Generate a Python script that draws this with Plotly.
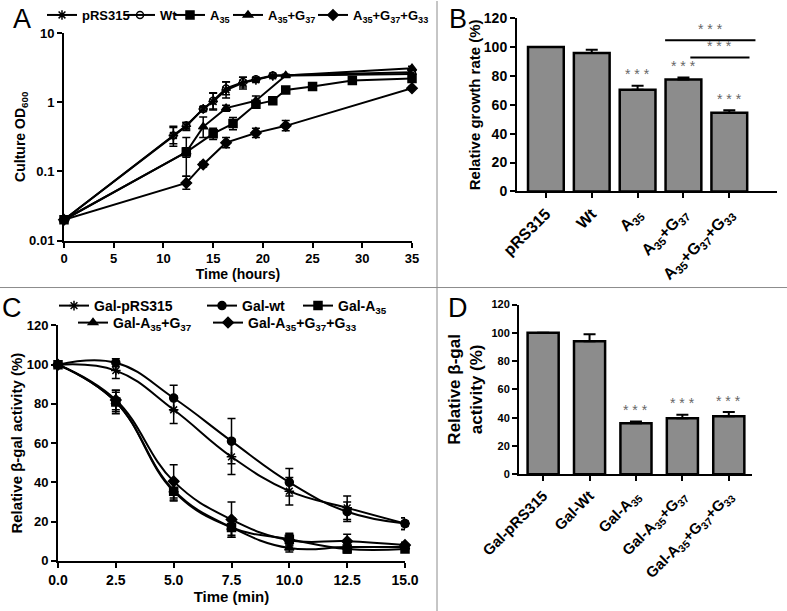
import plotly.graph_objects as go

W, H = 787, 611
FONT = "Liberation Sans, Arial, sans-serif"

# ---------------- Panel A data (growth curves, log OD600) ----------------
a_names = ["pRS315", "Wt", "A<sub>35</sub>", "A<sub>35</sub>+G<sub>37</sub>",
           "A<sub>35</sub>+G<sub>37</sub>+G<sub>33</sub>"]
a_symbols = ["asterisk-open", "circle-open", "square", "triangle-up", "diamond"]

a_prs_t = [0, 11, 12.3, 14, 15, 16.3, 18, 19.3, 21, 35]
a_prs_v = [0.02, 0.33, 0.45, 0.80, 1.02, 1.50, 1.90, 2.10, 2.40, 2.55]
a_prs_eu = [0, 0.12, 0.06, 0.05, 0.35, 0.45, 0.40, 0.15, 0.10, 0.10]
a_prs_ed = [0, 0.10, 0.06, 0.05, 0.25, 0.35, 0.35, 0.15, 0.10, 0.10]

a_wt_t = [0, 11, 12.3, 14, 15, 16.3, 18, 19.3, 21, 35]
a_wt_v = [0.02, 0.33, 0.46, 0.80, 1.05, 1.58, 1.95, 2.15, 2.43, 2.70]
a_wt_eu = [0, 0.10, 0.05, 0.05, 0.30, 0.40, 0.35, 0.12, 0.10, 0.10]
a_wt_ed = [0, 0.08, 0.05, 0.05, 0.25, 0.30, 0.30, 0.12, 0.10, 0.10]

a_a35_t = [0, 12.3, 15, 17, 19.3, 21, 22.3, 25, 29, 35]
a_a35_v = [0.02, 0.19, 0.35, 0.49, 0.93, 1.05, 1.50, 1.68, 2.05, 2.20]
a_a35_eu = [0, 0.12, 0.07, 0.11, 0.10, 0.05, 0.08, 0.08, 0.10, 0.20]
a_a35_ed = [0, 0.105, 0.06, 0.09, 0.10, 0.05, 0.08, 0.08, 0.10, 0.20]

a_g37_t = [0, 12.3, 14, 16.3, 19.3, 22.3, 35]
a_g37_v = [0.02, 0.19, 0.44, 0.82, 1.05, 2.43, 3.10]
a_g37_eu = [0, 0.03, 0.17, 0.08, 0.18, 0.10, 0.20]
a_g37_ed = [0, 0.03, 0.13, 0.08, 0.15, 0.10, 0.20]

a_g33_t = [0, 12.3, 14, 16.3, 19.3, 22.3, 35]
a_g33_v = [0.02, 0.068, 0.126, 0.26, 0.36, 0.455, 1.59]
a_g33_eu = [0, 0.017, 0.01, 0.05, 0.06, 0.09, 0.10]
a_g33_ed = [0, 0.013, 0.01, 0.04, 0.05, 0.07, 0.10]

a_t_list = [a_prs_t, a_wt_t, a_a35_t, a_g37_t, a_g33_t]
a_v_list = [a_prs_v, a_wt_v, a_a35_v, a_g37_v, a_g33_v]
a_eu_list = [a_prs_eu, a_wt_eu, a_a35_eu, a_g37_eu, a_g33_eu]
a_ed_list = [a_prs_ed, a_wt_ed, a_a35_ed, a_g37_ed, a_g33_ed]

a_xticks = [0, 5, 10, 15, 20, 25, 30, 35]
a_yticks = [0.01, 0.1, 1, 10]
a_yticktext = ["0.01", "0.1", "1", "10"]

# ---------------- Panel B data (relative growth rate) ----------------
b_cats = ["pRS315", "Wt", "A<sub>35</sub>", "A<sub>35</sub>+G<sub>37</sub>",
          "A<sub>35</sub>+G<sub>37</sub>+G<sub>33</sub>"]
b_vals = [100, 96, 70.5, 77.5, 54.5]
b_errs = [0, 2.2, 2.8, 1.5, 1.8]
b_stars = ["", "", "* * *", "* * *", "* * *"]
b_sig_x0 = [2.6, 3.15]
b_sig_x1 = [4.57, 4.44]
b_sig_y = [104.8, 92.8]

# ---------------- Panel C data (beta-gal decay) ----------------
c_names = ["Gal-pRS315", "Gal-wt", "Gal-A<sub>35</sub>",
           "Gal-A<sub>35</sub>+G<sub>37</sub>",
           "Gal-A<sub>35</sub>+G<sub>37</sub>+G<sub>33</sub>"]
c_symbols = ["asterisk-open", "circle", "square", "triangle-up", "diamond"]
c_t = [0, 2.5, 5, 7.5, 10, 12.5, 15]
c_prs = [100, 97, 77, 53, 35.5, 27, 19]
c_wt = [100, 101, 83, 61, 40, 25, 19]
c_a35 = [100, 81, 35.5, 17, 11, 6, 6]
c_g37 = [100, 81, 36, 17, 6.5, 7, 7]
c_g33 = [100, 82, 40.5, 21, 10.5, 10, 8]
c_prs_e = [0, 4, 7, 9, 7, 6, 3]
c_wt_e = [0, 2, 6.5, 11.5, 7, 5, 3]
c_a35_e = [0, 6, 5, 4, 3, 2, 1.5]
c_g37_e = [0, 5, 5, 5, 2, 2, 1.5]
c_g33_e = [0, 5, 8.5, 9, 3, 3.5, 1.5]
c_v_list = [c_prs, c_wt, c_a35, c_g37, c_g33]
c_e_list = [c_prs_e, c_wt_e, c_a35_e, c_g37_e, c_g33_e]
c_xticks = [0, 2.5, 5, 7.5, 10, 12.5, 15]

# ---------------- Panel D data (relative beta-gal activity) ----------------
d_cats = ["Gal-pRS315", "Gal-Wt", "Gal-A<sub>35</sub>",
          "Gal-A<sub>35</sub>+G<sub>37</sub>",
          "Gal-A<sub>35</sub>+G<sub>37</sub>+G<sub>33</sub>"]
d_vals = [100, 94, 36, 39.5, 41]
d_errs = [0, 5, 1.2, 2.5, 3]
d_stars = ["", "", "* * *", "* * *", "* * *"]

bar_y_ticks = [0, 20, 40, 60, 80, 100, 120]

# legend key placement (centre of key symbol, in page pixels)
a_leg_ids = ["legend", "legend4", "legend5", "legend6", "legend7"]
a_leg_cx = [62, 140, 190, 248, 333]
a_leg_cy = [14, 14, 14, 14, 14]
c_leg_ids = ["legend2", "legend8", "legend9", "legend3", "legend10"]
c_leg_cx = [74, 222, 318, 93, 228]
c_leg_cy = [306, 306, 306, 323, 323]


def fx(px):
    return px / W


def fy(py):
    return 1 - py / H


fig = go.Figure()

# Panel A traces
for i in range(5):
    fig.add_trace(go.Scatter(
        x=a_t_list[i], y=a_v_list[i], name=a_names[i],
        mode="lines+markers", xaxis="x", yaxis="y", legend=a_leg_ids[i],
        line=dict(color="black", width=2),
        marker=dict(symbol=a_symbols[i], size=8 if i != 1 else 7, color="black",
                    line=dict(color="black", width=1.5)),
        error_y=dict(type="data", symmetric=False, array=a_eu_list[i],
                     arrayminus=a_ed_list[i], color="black", thickness=1.5, width=4),
        cliponaxis=False,
    ))

# Panel B bars
fig.add_trace(go.Bar(
    x=b_cats, y=b_vals, xaxis="x2", yaxis="y2", showlegend=False, width=0.78,
    marker=dict(color="#8c8c8c", line=dict(color="black", width=2.5)),
    error_y=dict(type="data", symmetric=False, array=b_errs,
                 arrayminus=[0] * len(b_errs), color="black", thickness=2, width=6),
))

# Panel C traces
for i in range(5):
    fig.add_trace(go.Scatter(
        x=c_t, y=c_v_list[i], name=c_names[i],
        mode="lines+markers", xaxis="x3", yaxis="y3", legend=c_leg_ids[i],
        line=dict(color="black", width=2, shape="spline", smoothing=1.2),
        marker=dict(symbol=c_symbols[i], size=8, color="black",
                    line=dict(color="black", width=1.5)),
        error_y=dict(type="data", array=c_e_list[i], color="black",
                     thickness=1.5, width=4),
        cliponaxis=False,
    ))

# Panel D bars
fig.add_trace(go.Bar(
    x=d_cats, y=d_vals, xaxis="x4", yaxis="y4", showlegend=False, width=0.67,
    marker=dict(color="#8c8c8c", line=dict(color="black", width=2.5)),
    error_y=dict(type="data", symmetric=False, array=d_errs,
                 arrayminus=[0] * len(d_errs), color="black", thickness=2, width=6),
))

annotations = []
shapes = []
star_font = dict(family=FONT, size=14, color="#666666")

# Stars B
for i, s in enumerate(b_stars):
    if s:
        annotations.append(dict(x=b_cats[i], y=b_vals[i] + b_errs[i] + 1.0, xref="x2", yref="y2",
                                text=s, showarrow=False, yanchor="bottom", font=star_font))
for x0, x1, y in zip(b_sig_x0, b_sig_x1, b_sig_y):
    shapes.append(dict(type="line", xref="x2", yref="y2", x0=x0, x1=x1, y0=y, y1=y,
                       line=dict(color="black", width=2)))
    annotations.append(dict(x=(x0 + x1) / 2, y=y + 1.0, xref="x2", yref="y2", text="* * *",
                            showarrow=False, yanchor="bottom", font=star_font))
# Stars D
for i, s in enumerate(d_stars):
    if s:
        annotations.append(dict(x=d_cats[i], y=d_vals[i] + d_errs[i] + 1.0, xref="x4", yref="y4",
                                text=s, showarrow=False, yanchor="bottom", font=star_font))

# Panel letters
for letter, px, py in [("A", 11, 18), ("B", 447, 18), ("C", 0, 308), ("D", 446, 308)]:
    annotations.append(dict(x=fx(px), y=fy(py), xref="paper", yref="paper", text=letter,
                            showarrow=False, xanchor="left", yanchor="middle",
                            font=dict(family=FONT, size=27, color="black")))

# Divider lines
shapes.append(dict(type="line", xref="paper", yref="paper", x0=fx(437), x1=fx(437),
                   y0=0, y1=1, line=dict(color="#8c8c8c", width=1)))
shapes.append(dict(type="line", xref="paper", yref="paper", x0=0, x1=1,
                   y0=fy(287), y1=fy(287), line=dict(color="#8c8c8c", width=1)))

axis_common = dict(showline=True, linecolor="black", linewidth=2, ticks="outside",
                   ticklen=5, tickwidth=2, tickcolor="black", showgrid=False,
                   zeroline=False, automargin=False,
                   tickfont=dict(family=FONT, size=13, color="black", weight="bold"))


def ax(**kw):
    d = dict(axis_common)
    d.update(kw)
    return d


def bold(size):
    return dict(family=FONT, size=size, color="black", weight="bold")


legends = {}
for lid, cx, cy in zip(a_leg_ids, a_leg_cx, a_leg_cy):
    legends[lid] = dict(orientation="h", x=fx(cx - 20), y=fy(cy), xanchor="left",
                        yanchor="middle", font=bold(13), bgcolor="rgba(0,0,0,0)",
                        itemwidth=30)
for lid, cx, cy in zip(c_leg_ids, c_leg_cx, c_leg_cy):
    legends[lid] = dict(orientation="h", x=fx(cx - 20), y=fy(cy), xanchor="left",
                        yanchor="middle", font=bold(14), bgcolor="rgba(0,0,0,0)",
                        itemwidth=30)

fig.update_layout(
    width=W, height=H, template="none",
    margin=dict(l=0, r=0, t=0, b=0),
    paper_bgcolor="white", plot_bgcolor="white",
    font=dict(family=FONT, color="black"),
    xaxis=ax(domain=[fx(64), fx(412)], range=[0, 35], tickvals=a_xticks, anchor="y",
             title=dict(text="Time (hours)", font=bold(14), standoff=0)),
    yaxis=ax(domain=[fy(240), fy(32)], type="log", range=[-2, 1], tickvals=a_yticks,
             ticktext=a_yticktext, anchor="x",
             title=dict(text="Culture OD<sub>600</sub>", font=bold(14), standoff=0)),
    xaxis2=ax(domain=[fx(517), fx(777)], range=[-0.63, 5.04], type="category", anchor="y2",
              tickangle=-45, tickfont=bold(16)),
    yaxis2=ax(domain=[fy(190.7), fy(17.3)], range=[0, 120], tickvals=bar_y_ticks, anchor="x2",
              tickfont=bold(14),
              title=dict(text="Relative growth rate (%)", font=bold(15), standoff=0)),
    xaxis3=ax(domain=[fx(58), fx(405)], range=[0, 15], tickvals=c_xticks, tickformat=".1f",
              anchor="y3", tickfont=bold(14),
              title=dict(text="Time (min)", font=bold(15), standoff=0)),
    yaxis3=ax(domain=[fy(560.7), fy(325)], range=[0, 120], tickvals=bar_y_ticks, anchor="x3",
              title=dict(text="Relative β-gal activity (%)", font=bold(15), standoff=0)),
    xaxis4=ax(domain=[fx(519), fx(752)], range=[-0.52, 4.5], type="category", anchor="y4",
              tickangle=-45, tickfont=bold(15)),
    yaxis4=ax(domain=[fy(474), fy(304)], range=[0, 120], tickvals=bar_y_ticks, anchor="x4",
              tickfont=bold(11),
              title=dict(text="Relative β-gal<br>activity (%)", font=bold(17), standoff=4)),
    annotations=annotations,
    shapes=shapes,
    showlegend=True,
    **legends,
)

fig.write_html("out.html", config={"displayModeBar": False},
               post_script="document.body.style.margin='0px';document.body.style.overflow='hidden';")
